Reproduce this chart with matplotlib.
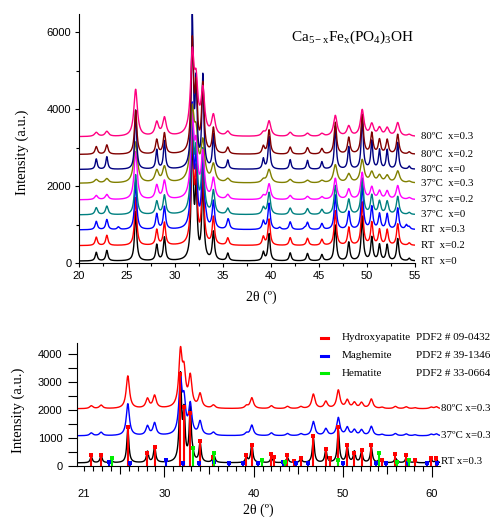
import numpy as np
import matplotlib
matplotlib.use("Agg")
import matplotlib.pyplot as plt
from matplotlib.lines import Line2D

plt.rcParams['font.family'] = ['Liberation Sans', 'DejaVu Sans']
plt.rcParams['mathtext.fontset'] = 'custom'
plt.rcParams['mathtext.rm'] = 'Liberation Serif'
plt.rcParams['mathtext.it'] = 'Liberation Serif:italic'
SERIF = ['Liberation Serif', 'DejaVu Serif']

# HAp reflections used for the measured profiles (2theta, relative height)
peaks = [21.8, 22.9, 25.9, 28.1, 28.9, 31.8, 32.2, 32.9, 34.0, 35.5, 39.2, 39.8,
         42.0, 43.8, 45.3, 46.7, 48.1, 49.5, 50.5, 51.3, 52.1, 53.2, 54.4, 55.9,
         57.1, 58.1, 59.9, 60.5]
sharp_rel = [0.07, 0.085, 0.40, 0.13, 0.19, 1.0, 0.55, 0.62, 0.23, 0.06, 0.07, 0.22,
             0.065, 0.06, 0.05, 0.29, 0.15, 0.36, 0.19, 0.13, 0.13, 0.18, 0.02, 0.05,
             0.05, 0.02, 0.04, 0.04]
broad_rel = [0.045, 0.055, 0.52, 0.15, 0.2, 0.85, 0.5, 0.48, 0.22, 0.05, 0.04, 0.17,
             0.045, 0.035, 0.03, 0.23, 0.11, 0.29, 0.13, 0.09, 0.09, 0.15, 0.02, 0.035,
             0.03, 0.015, 0.025, 0.03]

# top panel samples
top_labels = ['RT  x=0', 'RT  x=0.2', 'RT  x=0.3', '37ºC  x=0', '37ºC  x=0.2',
              '37ºC  x=0.3', '80ºC  x=0', '80ºC  x=0.2', '80ºC  x=0.3']
top_offsets = [50, 450, 860, 1250, 1640, 2070, 2430, 2820, 3280]
top_scales = [3200, 3100, 3100, 2600, 2400, 2050, 3850, 2850, 2350]
top_widths = [0.26, 0.28, 0.28, 0.32, 0.38, 0.46, 0.24, 0.30, 0.44]
top_broad = [False, False, False, False, True, True, False, False, True]
top_hem = [0, 0, 0.25, 0, 0, 0, 0, 0, 0]
top_colors = ['#000000', '#ff0000', '#0000ff', '#008080', '#ff00ff',
              '#808000', '#000080', '#800000', '#ff0080']

# bottom panel samples
bot_labels = ['RT x=0.3', '37ºC x=0.3', '80ºC x=0.3']
bot_offsets = [100, 1070, 2040]
bot_scales = [3050, 2200, 2250]
bot_widths = [0.28, 0.42, 0.44]
bot_broad = [False, True, True]
bot_hem = [0.25, 0, 0]
bot_colors = ['#000000', '#0000ff', '#ff0000']

# reference cards
hap_pos = [21.8, 22.9, 25.9, 28.1, 28.9, 31.8, 32.2, 32.9, 34.0, 35.5, 39.2, 39.8,
           42.0, 42.3, 43.8, 44.5, 45.3, 46.7, 48.1, 48.6, 49.5, 50.5, 51.3, 52.1,
           53.2, 54.4, 55.9, 57.1, 58.1, 59.9, 60.5]
hap_h = [400, 400, 1400, 450, 680, 3300, 2100, 1900, 900, 300, 380, 740,
         410, 300, 380, 160, 270, 1060, 590, 270, 1400, 740, 470, 560,
         740, 200, 410, 380, 200, 270, 270]
mag_pos = [23.8, 26.1, 30.2, 32.1, 33.9, 35.6, 37.2, 38.8, 40.5, 43.3, 44.7, 46.1,
           50.0, 53.7, 54.9, 57.3, 59.4, 60.6]
mag_h = [120, 110, 200, 90, 110, 150, 90, 90, 100, 130, 90, 100,
         100, 110, 90, 100, 90, 90]
hem_pos = [24.1, 33.2, 35.6, 40.9, 43.5, 49.5, 54.1, 56.1, 57.4]
hem_h = [270, 630, 470, 220, 150, 200, 450, 150, 200]

legend_names = ['Hydroxyapatite', 'Maghemite', 'Hematite']
legend_cards = ['PDF2 # 09-0432', 'PDF2 # 39-1346', 'PDF2 # 33-0664']
card_colors = ['#ff0000', '#0000ff', '#00ee00']


def profile(x, offset, scale, w, broad, hem):
    rel = broad_rel if broad else sharp_rel
    y = np.full_like(x, float(offset))
    for p, r in zip(peaks, rel):
        y += scale * r / (1 + (2 * (x - p) / w) ** 2)
    for p, h in zip(hem_pos, hem_h):
        y += hem * h / (1 + (2 * (x - p) / w) ** 2)
    return y


fig = plt.figure(figsize=(4.9, 5.17), dpi=100)

# ---- top panel
ax1 = fig.add_axes([79 / 490, 1 - 263 / 517, 336 / 490, 249 / 517])
x1 = np.linspace(20, 55, 3500)
for i in range(len(top_labels)):
    ax1.plot(x1, profile(x1, top_offsets[i], top_scales[i], top_widths[i],
                         top_broad[i], top_hem[i]),
             color=top_colors[i], lw=1.0)
    ax1.text(55.6, top_offsets[i], top_labels[i], fontsize=7.8, family=SERIF,
             va='center', ha='left', clip_on=False)
ax1.set_xlim(20, 55)
ax1.set_ylim(0, 6470)
ax1.set_xticks(np.arange(20, 56, 5))
ax1.set_xticks(np.arange(22.5, 55, 5), minor=True)
ax1.set_yticks([0, 2000, 4000, 6000])
ax1.set_yticks([1000, 3000, 5000], minor=True)
ax1.tick_params(which='major', direction='out', length=3, width=0.8, labelsize=8, pad=2.5)
ax1.tick_params(which='minor', direction='out', length=2, width=0.8)
for s in ['top', 'right']:
    ax1.spines[s].set_visible(False)
ax1.text(0.815, 0.905, r'Ca$_{\rm 5-x}$Fe$_{\rm x}$(PO$_{\rm 4}$)$_{\rm 3}$OH',
         transform=ax1.transAxes, fontsize=11, family=SERIF, ha='center', va='center')

fig.text(22.5 / 490, 1 - 152 / 517, 'Intensity (a.u.)', rotation=90, family=SERIF,
         fontsize=10.5, ha='center', va='center')
fig.text(261 / 490, 1 - 297 / 517, '2θ (º)', family=SERIF, fontsize=10,
         ha='center', va='center')

# ---- bottom panel
ax2 = fig.add_axes([77 / 490, 1 - 465.7 / 517, 363 / 490, 122.7 / 517])
x2 = np.linspace(20.2, 60.9, 4000)
for i in range(len(bot_labels)):
    ax2.plot(x2, profile(x2, bot_offsets[i], bot_scales[i], bot_widths[i],
                         bot_broad[i], bot_hem[i]),
             color=bot_colors[i], lw=1.0)
    ax2.text(61.05, bot_offsets[i] + (40 if i == 0 else 0), bot_labels[i],
             fontsize=7.8, family=SERIF, va='center', ha='left', clip_on=False)

for pos, h, c in zip([hap_pos, mag_pos, hem_pos], [hap_h, mag_h, hem_h], card_colors):
    ax2.vlines(pos, 0, h, color=c, lw=1.5)
    ax2.plot(pos, h, 's', color=c, ms=2.4, mew=0)

ax2.set_xlim(20.2, 60.9)
ax2.set_ylim(0, 4400)
major_x = [21, 25, 30, 35, 40, 45, 50, 55, 60]
ax2.set_xticks(major_x)
ax2.set_xticklabels(['21', '', '30', '', '40', '', '50', '', '60'])
ax2.set_xticks(np.arange(21, 61, 1), minor=True)
ax2.set_yticks(np.arange(0, 4001, 1000))
ax2.set_yticks(np.arange(500, 4400, 1000), minor=True)
ax2.tick_params(axis='x', which='major', direction='out', length=8, width=0.8,
                labelsize=8, pad=9)
ax2.tick_params(axis='x', which='minor', direction='out', length=3.5, width=0.8)
ax2.tick_params(axis='y', which='both', direction='out', length=6.5, width=0.8,
                labelsize=8, pad=4)
for t, v in zip(ax2.xaxis.get_major_ticks(), major_x):
    if v == 21:
        t.tick1line.set_markersize(3.5)
    elif v % 10 == 5:
        t.tick1line.set_markersize(6)
for s in ['top', 'right']:
    ax2.spines[s].set_visible(False)

fig.text(18 / 490, 1 - 410 / 517, 'Intensity (a.u.)', rotation=90, family=SERIF,
         fontsize=10.5, ha='center', va='center')
fig.text(258 / 490, 1 - 510 / 517, '2θ (º)', family=SERIF, fontsize=10,
         ha='center', va='center')

# legend for the reference cards
for k, c in enumerate(card_colors):
    yk = 1 - (338 + 17.5 * k) / 517
    fig.add_artist(Line2D([321 / 490, 328 / 490], [yk, yk], color=c, lw=2.2))
    fig.text(341.5 / 490, yk, legend_names[k], family=SERIF, fontsize=8, va='center')
    fig.text(416 / 490, yk, legend_cards[k], family=SERIF, fontsize=8, va='center')

fig.savefig('out.png', dpi=100)
